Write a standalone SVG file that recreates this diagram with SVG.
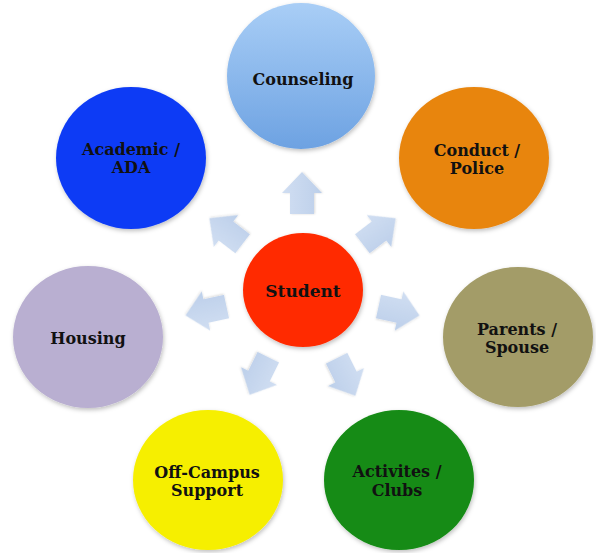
<svg xmlns="http://www.w3.org/2000/svg" width="596" height="553" viewBox="0 0 596 553">
  <defs>
    <linearGradient id="gCouns" x1="0" y1="0" x2="0" y2="1">
      <stop offset="0" stop-color="#a9cef6"/>
      <stop offset="1" stop-color="#6da2e2"/>
    </linearGradient>
    <linearGradient id="gArrow" x1="0" y1="0" x2="0" y2="1">
      <stop offset="0" stop-color="#d0def2"/>
      <stop offset="0.5" stop-color="#c7d7ee"/>
      <stop offset="1" stop-color="#bccfea"/>
    </linearGradient>
    <filter id="shadow" x="-20%" y="-20%" width="140%" height="140%">
      <feDropShadow dx="1" dy="2" stdDeviation="2" flood-color="#000" flood-opacity="0.25"/>
    </filter>
    <filter id="ashadow" x="-20%" y="-20%" width="140%" height="140%">
      <feDropShadow dx="0" dy="1" stdDeviation="1.2" flood-color="#000" flood-opacity="0.15"/>
    </filter>
    <path id="arrow" d="M-21,-12 L0,-12 L0,-20 L21,0 L0,20 L0,12 L-21,12 Z"/>
  </defs>
  <style>
    .lbl { font-family: "DejaVu Serif", "Liberation Serif", serif; font-weight: bold; font-size: 16px; fill: #111; text-anchor: middle; }
    .node ellipse { filter: url(#shadow); }
    .conn use { fill: url(#gArrow); filter: url(#ashadow); }
  </style>

  <g id="connectors" class="conn">
    <use href="#arrow" transform="translate(302,193) rotate(-90)"/>
    <use href="#arrow" transform="translate(226,231) rotate(-142.5)"/>
    <use href="#arrow" transform="translate(379,231) rotate(-37.5)"/>
    <use href="#arrow" transform="translate(206,311) rotate(167.8)"/>
    <use href="#arrow" transform="translate(399,311) rotate(12.3)"/>
    <use href="#arrow" transform="translate(259,376) rotate(116.3)"/>
    <use href="#arrow" transform="translate(346,377) rotate(63.4)"/>
  </g>

  <g id="counseling" class="node">
    <ellipse cx="301" cy="76" rx="74" ry="73" fill="url(#gCouns)"/>
    <text class="lbl" x="303" y="85">Counseling</text>
  </g>
  <g id="academic" class="node">
    <ellipse cx="131" cy="158" rx="75" ry="71" fill="#0b3bf5"/>
    <text class="lbl" x="131" y="155">Academic /</text>
    <text class="lbl" x="131" y="173">ADA</text>
  </g>
  <g id="conduct" class="node">
    <ellipse cx="474" cy="158" rx="75" ry="71" fill="#e8850f"/>
    <text class="lbl" x="477" y="156">Conduct /</text>
    <text class="lbl" x="477" y="174">Police</text>
  </g>
  <g id="housing" class="node">
    <ellipse cx="88" cy="337" rx="75" ry="71" fill="#b9afd1"/>
    <text class="lbl" x="88" y="344">Housing</text>
  </g>
  <g id="parents" class="node">
    <ellipse cx="518" cy="337" rx="75" ry="70" fill="#a39c67"/>
    <text class="lbl" x="517" y="335">Parents /</text>
    <text class="lbl" x="517" y="353">Spouse</text>
  </g>
  <g id="offcampus" class="node">
    <ellipse cx="208" cy="480" rx="75" ry="70" fill="#f6ef00"/>
    <text class="lbl" x="207" y="478">Off-Campus</text>
    <text class="lbl" x="207" y="496">Support</text>
  </g>
  <g id="activites" class="node">
    <ellipse cx="399" cy="480" rx="75" ry="70" fill="#138b13"/>
    <text class="lbl" x="397" y="477">Activites /</text>
    <text class="lbl" x="397" y="496">Clubs</text>
  </g>
  <g id="student" class="node">
    <ellipse cx="303" cy="290" rx="60" ry="57" fill="#ff2c00"/>
    <text class="lbl" x="303" y="297" style="font-size:17px">Student</text>
  </g>
</svg>
